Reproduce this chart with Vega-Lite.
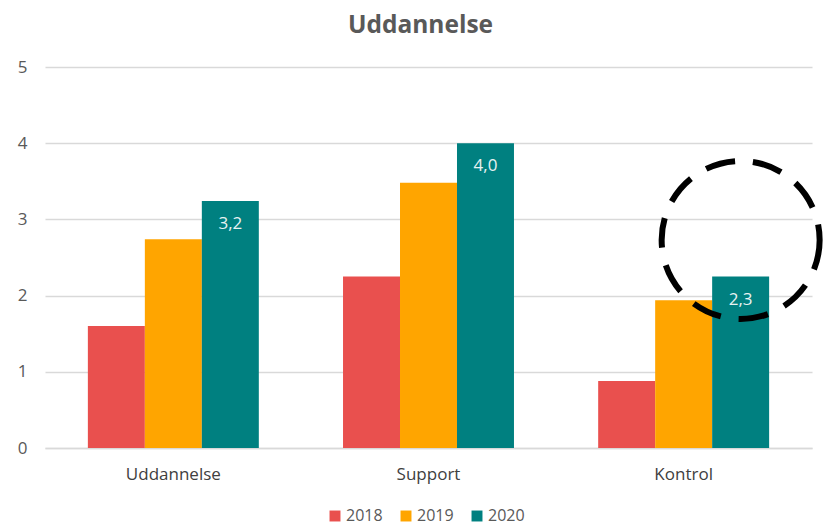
{
  "$schema": "https://vega.github.io/schema/vega-lite/v6.json",
  "width": 767,
  "height": 381,
  "autosize": {"type": "none"},
  "padding": {"left": 45, "top": 67, "right": 11, "bottom": 77},
  "title": {"text": "Uddannelse", "font": "Open Sans", "fontSize": 24.5, "fontWeight": "bold", "color": "#595959", "offset": 20, "dx": -8},
  "config": {"view": {"stroke": null}, "font": "Open Sans"},
  "datasets": {
    "bars": [
      {"cat": "Uddannelse", "year": "2018", "value": 1.6, "label": ""},
      {"cat": "Uddannelse", "year": "2019", "value": 2.74, "label": ""},
      {"cat": "Uddannelse", "year": "2020", "value": 3.24, "label": "3,2"},
      {"cat": "Support", "year": "2018", "value": 2.25, "label": ""},
      {"cat": "Support", "year": "2019", "value": 3.48, "label": ""},
      {"cat": "Support", "year": "2020", "value": 4.0, "label": "4,0"},
      {"cat": "Kontrol", "year": "2018", "value": 0.88, "label": ""},
      {"cat": "Kontrol", "year": "2019", "value": 1.94, "label": ""},
      {"cat": "Kontrol", "year": "2020", "value": 2.25, "label": "2,3"}
    ],
    "callout": [{"cat": "Kontrol", "year": "2020", "value": 2.73}]
  },
  "layer": [
    {
      "data": {"name": "bars"},
      "mark": {"type": "bar"},
      "encoding": {
        "x": {"field": "cat", "type": "nominal",
          "scale": {"domain": ["Uddannelse", "Support", "Kontrol"], "paddingInner": 0.33, "paddingOuter": 0.168},
          "axis": {"title": null, "ticks": false, "domain": true, "domainColor": "#d9d9d9", "domainWidth": 1.5, "labelFontSize": 17, "labelColor": "#404040", "labelPadding": 18, "labelAngle": 0}},
        "xOffset": {"field": "year", "type": "nominal", "scale": {"domain": ["2018", "2019", "2020"], "paddingInner": 0, "paddingOuter": 0}},
        "y": {"field": "value", "type": "quantitative",
          "scale": {"domain": [0, 5], "nice": false},
          "axis": {"title": null, "values": [0, 1, 2, 3, 4, 5], "format": "d", "grid": true, "gridColor": "#d9d9d9", "gridWidth": 1.5, "domain": false, "ticks": false, "labelColor": "#595959", "labelFontSize": 17, "labelPadding": 18}},
        "color": {"field": "year", "type": "nominal",
          "scale": {"domain": ["2018", "2019", "2020"], "range": ["#E9504E", "#FFA500", "#008080"]},
          "legend": {"title": null, "orient": "none", "legendX": 282, "legendY": 441, "direction": "horizontal", "symbolType": "square", "symbolSize": 120, "symbolStrokeWidth": 0, "labelFontSize": 16, "labelColor": "#595959", "columnPadding": 15, "labelOffset": 3}}
      }
    },
    {
      "data": {"name": "bars"},
      "transform": [{"filter": "datum.label != ''"}],
      "mark": {"type": "text", "baseline": "middle", "dy": 23, "fontSize": 17, "color": "#e8f2f2"},
      "encoding": {
        "x": {"field": "cat", "type": "nominal"},
        "xOffset": {"field": "year", "type": "nominal"},
        "y": {"field": "value", "type": "quantitative"},
        "text": {"field": "label"}
      }
    },
    {
      "data": {"name": "callout"},
      "mark": {"type": "point", "shape": "circle", "filled": false, "stroke": "black", "strokeWidth": 6, "strokeDash": [30, 18], "size": 24964, "clip": false, "opacity": 1},
      "encoding": {
        "x": {"field": "cat", "type": "nominal"},
        "xOffset": {"field": "year", "type": "nominal"},
        "y": {"field": "value", "type": "quantitative"}
      }
    }
  ]
}
